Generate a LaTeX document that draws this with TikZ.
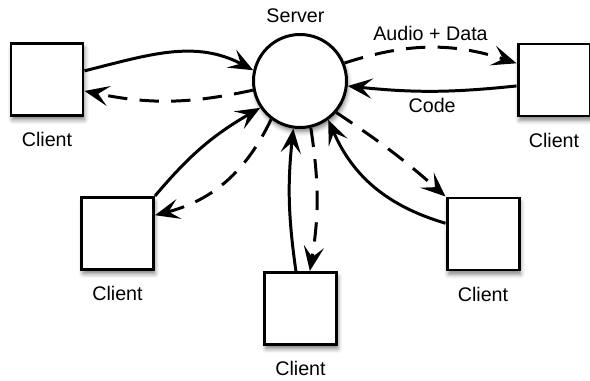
\documentclass[tikz,border=0pt]{standalone}
\usepackage{fontspec}
\setmainfont{Liberation Sans}
\usetikzlibrary{arrows.meta, shadows.blur}

\begin{document}
\begin{tikzpicture}[scale=0.2,
        every node/.style={font=\fontsize{11.2}{13}\selectfont},
        shade/.style={blur shadow={shadow xshift=0.8pt, shadow yshift=-2.4pt, shadow blur radius=2.5pt, shadow opacity=50}},
        client/.style={draw, line width=1.7pt, fill=white, minimum size=1.44cm, inner sep=0pt, shade, label={[label distance=5.3pt]below:Client}},
        server/.style={draw, circle, line width=1.7pt, fill=white, minimum size=1.86cm, inner sep=0pt, shade, label={[label distance=2.4pt, xshift=-2.6pt]above:Server}},
        codearrow/.style={line width=1.7pt, -{Stealth[length=14pt, width=11.5pt, inset=6pt]}},
        dataarrow/.style={codearrow, dash pattern=on 11pt off 7pt}]
        \useasboundingbox (0,0) rectangle (59,38);
        % server and clients
        \node[server] (srv) at (30,29.9) {};
        \node[client] (cTL) at (4.7,30.05) {};
        \node[client] (cTR) at (55.4,30) {};
        \node[client] (cL) at (11.75,14.65) {};
        \node[client] (cB) at (30.05,7.15) {};
        \node[client] (cR) at (48.3,14.6) {};
        % solid: client to server, dashed: server to client
        \draw[codearrow] (cTL.13) to[out=14, in=152] (srv.167);
        \draw[dataarrow] (srv.191) to[bend left=12] (cTL.-17);
        \draw[dataarrow] (srv.22) to[bend left=18] node[above] (audio) {Audio + Data} (cTR.156);
        \draw[codearrow] (cTR.189) to[bend left=6] node[below] (code) {Code} (srv.-6);
        \draw[codearrow] (cL.north east) to[bend left=10] (srv.214);
        \draw[dataarrow] (srv.233) to[bend left=25] (cL.26);
        \draw[codearrow] (cB.97) to[bend left=7] (srv.262);
        \draw[dataarrow] (srv.283) to[bend left=9] (cB.76);
        \draw[dataarrow] (srv.-41) to[bend left=4] (cR.north west);
        \draw[codearrow] (cR.164) to[bend left=25] (srv.-54);
    \end{tikzpicture}
\end{document}
